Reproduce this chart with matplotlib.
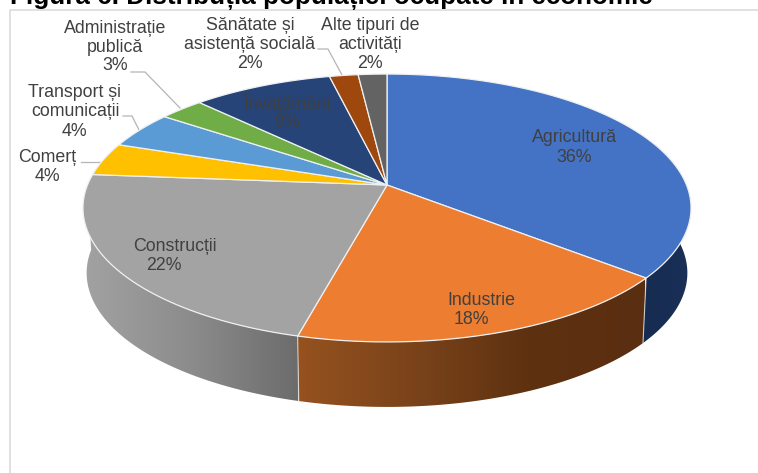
import numpy as np
import matplotlib
matplotlib.use("Agg")
import matplotlib.pyplot as plt
from matplotlib.patches import Polygon, PathPatch
from matplotlib.path import Path
from matplotlib.colors import LinearSegmentedColormap

plt.rcParams['font.family'] = ['Liberation Sans', 'DejaVu Sans']

categories = ["Agricultură", "Industrie", "Construcții", "Comerț", "Transport și\ncomunicații",
              "Administrație\npublică", "Învățământ", "Sănătate și\nasistență socială", "Alte tipuri de\nactivități"]
values = [36, 18, 22.3, 4, 4.5, 2.8, 8.8, 1.8, 1.8]
colors = ["#4472C4", "#ED7D31", "#A3A3A3", "#FFC000", "#5B9BD5", "#70AD47", "#264478", "#9E480E", "#636363"]

CX, CY = 387.0, 185.0
A, B, K = 299.5, 130.0, 0.1716
DEPTH = 65.0


def project(frac):
    t = 2 * np.pi * np.asarray(frac)
    u, v = np.sin(t), -np.cos(t)
    w = 1 - K * v
    return CX + A * u / w, CY + B * v / w


def project_bottom(frac):
    x, y = project(frac)
    return CX + (x - CX) * 0.988, y + DEPTH


fig = plt.figure(figsize=(7.58, 4.73), dpi=100)
ax = fig.add_axes([0, 0, 1, 1])
ax.set_xlim(0, 758)
ax.set_ylim(473, 0)
ax.axis("off")

# frame of the chart
ax.plot([9.5, 9.5, 758], [473, 10.5, 10.5], color="#dcdcdc", lw=1.2, zorder=1)

cum = np.concatenate([[0], np.cumsum(values)]) / sum(values)

# side wall
side_styles = {
    0: (["#152B50", "#1A3057"], 640, 692),
    1: (["#96521F", "#7A431A", "#5E3110", "#5A2E10"], 297, 645),
    2: (["#A2A2A2", "#8C8C8C", "#6C6C6C"], 84, 298),
}
for i, (cols, x0, x1) in side_styles.items():
    lo = cum[i]
    hi = min(cum[i + 1], 0.7501)
    f = np.linspace(lo, hi, 160)
    xt, yt = project(f)
    xb, yb = project_bottom(f)
    pts = np.vstack([np.column_stack([xt, yt]), np.column_stack([xb, yb])[::-1]])
    cmap = LinearSegmentedColormap.from_list("s", cols)
    im = ax.imshow(np.linspace(0, 1, 256)[None, :], cmap=cmap, aspect="auto",
                   extent=[x0, x1, 473, 0], zorder=2)
    patch = PathPatch(Path(np.vstack([pts, pts[:1]]), closed=True), transform=ax.transData,
                      fc="none", ec="none")
    ax.add_patch(patch)
    im.set_clip_path(patch)
ax.set_xlim(0, 758)
ax.set_ylim(473, 0)

# seams on the wall
for f in (cum[1], cum[2]):
    xt, yt = project(f)
    xb, yb = project_bottom(f)
    ax.plot([xt, xb], [yt, yb], color="#e4e4e4", lw=0.8, alpha=0.8, zorder=3)

# top face
for i, c in enumerate(colors):
    f = np.linspace(cum[i], cum[i + 1], 120)
    x, y = project(f)
    pts = np.column_stack([np.r_[CX, x], np.r_[CY, y]])
    ax.add_patch(Polygon(pts, closed=True, fc=c, ec="#eef0f2", lw=0.9, zorder=4, joinstyle="round"))

# leader lines
leaders = [
    ([81, 101], [162, 162]),
    ([123, 132, 139], [116, 116, 130]),
    ([131, 145, 180], [72, 72, 108]),
    ([318, 328, 342], [49, 49, 75]),
]
for lx, ly in leaders:
    ax.plot(lx, ly, color="#b5b5b5", lw=0.9, zorder=3)

# data labels: name line(s) and percentage placed separately as in the original
label_pos = [
    (574, 137, 574, 157),
    (481, 300, 471, 319),
    (175, 246, 164, 265),
    (47, 157, 47, 176),
    (75, 102, 74, 131),
    (115, 38, 115, 66),
    (287, 103, 287, 122),
    (250, 35, 250, 63),
    (370, 35, 370, 63),
]
for name, v, (nx, ny, px, py) in zip(categories, values, label_pos):
    txt = dict(ha="center", va="center", color="#404040", fontsize=12.8, zorder=6, linespacing=1.12)
    ax.text(nx, ny, name, **txt)
    ax.text(px, py, f"{v:.0f}%", **txt)

ax.text(10, 4, "Figura 6. Distribuția populației ocupate în economie", ha="left", va="baseline",
        fontsize=18.75, fontweight="bold", color="black", zorder=6)

fig.savefig("out.png", dpi=100)
